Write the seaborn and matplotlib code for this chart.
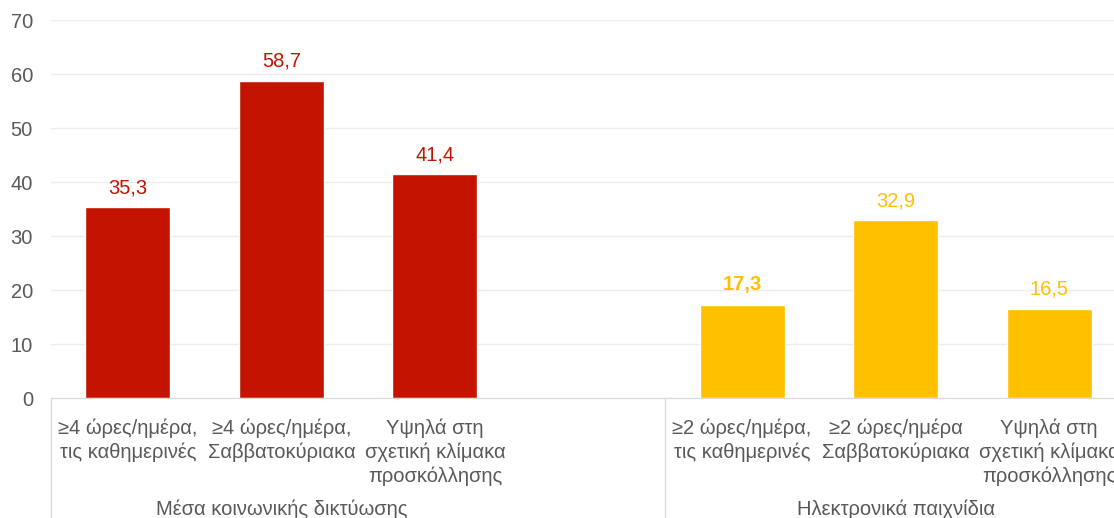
import numpy as np
import pandas as pd
import seaborn as sns
import matplotlib.pyplot as plt
import matplotlib.transforms as mtransforms

# slots along the x axis; "gap" is the empty slot between the two groups
slots = ["sm_week", "sm_weekend", "sm_high", "gap", "gm_week", "gm_weekend", "gm_high"]
tick_labels = [
    "≥4 ώρες/ημέρα,\nτις καθημερινές",
    "≥4 ώρες/ημέρα,\nΣαββατοκύριακα",
    "Υψηλά στη\nσχετική κλίμακα\nπροσκόλλησης",
    "",
    "≥2 ώρες/ημέρα,\nτις καθημερινές",
    "≥2 ώρες/ημέρα\nΣαββατοκύριακα",
    "Υψηλά στη\nσχετική κλίμακα\nπροσκόλλησης",
]
social_keys = ["sm_week", "sm_weekend", "sm_high"]
social_values = [35.3, 58.7, 41.4]
games_keys = ["gm_week", "gm_weekend", "gm_high"]
games_values = [17.3, 32.9, 16.5]
group_names = ["Μέσα κοινωνικής δικτύωσης", "Ηλεκτρονικά παιχνίδια"]

RED = "#C41400"
YELLOW = "#FFC000"
GREY = "#595959"
FS = 14.5

df = pd.DataFrame({
    "slot": social_keys + games_keys,
    "value": social_values + games_values,
    "group": [group_names[0]] * 3 + [group_names[1]] * 3,
})

sns.set_style("white")
plt.rcParams["font.family"] = ["Liberation Sans", "DejaVu Sans"]

fig = plt.figure(figsize=(11.14, 5.18), dpi=100)
ax = fig.add_axes([51 / 1114, 1 - 398 / 518, 1075 / 1114, 378 / 518])

sns.barplot(data=df, x="slot", y="value", hue="group", order=slots,
            palette={group_names[0]: RED, group_names[1]: YELLOW},
            dodge=False, width=0.553, legend=False, ax=ax, saturation=1)

ax.set_ylim(0, 70)
ax.set_xlim(-0.5, 6.5)
ax.set_yticks(range(0, 71, 10))
ax.yaxis.grid(True, color="#EDEDED", linewidth=1)
ax.set_axisbelow(True)
for s in ["top", "right", "left"]:
    ax.spines[s].set_visible(False)
ax.spines["bottom"].set_color("#D9D9D9")
ax.tick_params(axis="y", length=0, pad=13, labelsize=FS, labelcolor=GREY)
ax.tick_params(axis="x", length=0, pad=15, labelsize=FS, labelcolor=GREY)
ax.set_xticks(range(len(slots)))
ax.set_xticklabels(tick_labels, linespacing=1.28)
ax.set_xlabel("")
ax.set_ylabel("")

# value labels
for k, v in zip(social_keys, social_values):
    ax.text(slots.index(k), v + 1.9, f"{v:.1f}".replace(".", ","),
            ha="center", va="bottom", color=RED, fontsize=FS)
for i, (k, v) in enumerate(zip(games_keys, games_values)):
    ax.text(slots.index(k), v + 1.9, f"{v:.1f}".replace(".", ","),
            ha="center", va="bottom", color=YELLOW, fontsize=FS,
            fontweight="bold" if i == 0 else "normal")

# group dividers and names below the axis
trans = mtransforms.blended_transform_factory(ax.transData, ax.transAxes)
for xd in [-0.5, 3.5]:
    ax.plot([xd, xd], [0, -0.35], transform=trans, color="#D9D9D9",
            linewidth=1, clip_on=False)
ax.text(1, -0.295, group_names[0], transform=trans, ha="center", va="center",
        color=GREY, fontsize=FS)
ax.text(5, -0.295, group_names[1], transform=trans, ha="center", va="center",
        color=GREY, fontsize=FS)

fig.savefig("out.png", dpi=100)
